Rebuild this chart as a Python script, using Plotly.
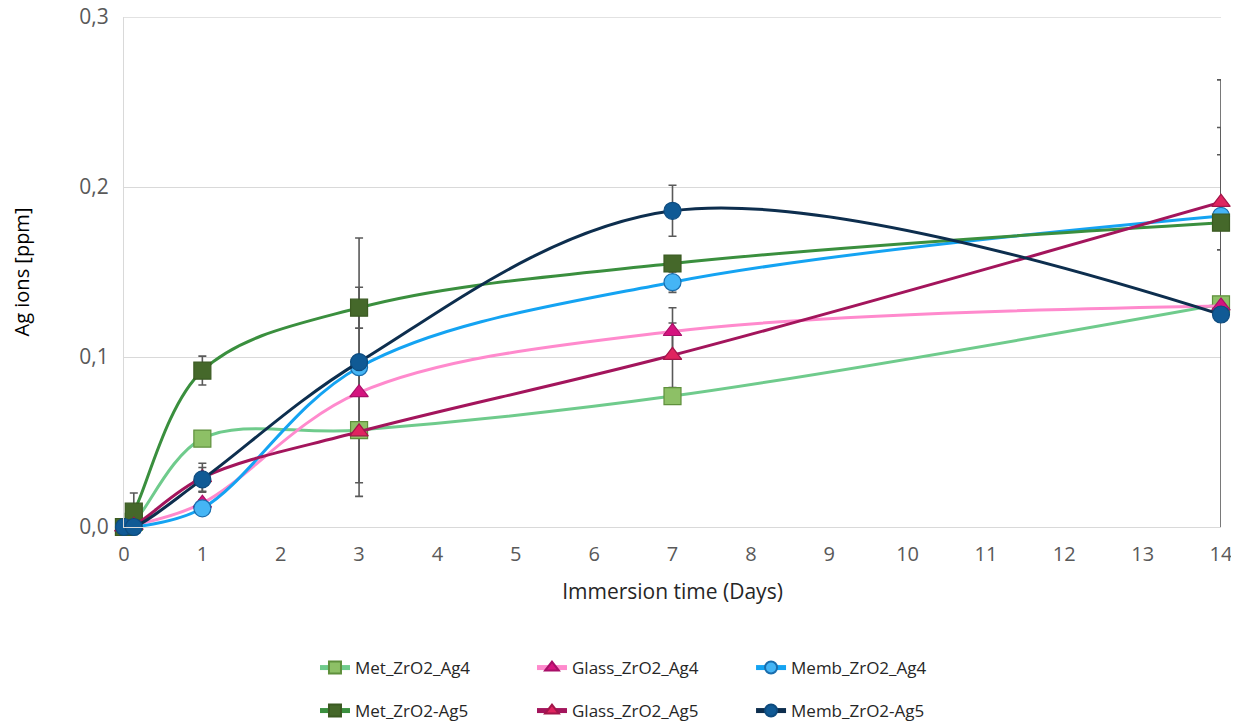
import plotly.graph_objects as go

# ---------------- data ----------------
days = [0, 0.125, 1, 3, 7, 14]
x_ticks = list(range(0, 15))
y_ticks = [0, 0.1, 0.2, 0.3]

met_ag4 = [0, 0.003, 0.052, 0.057, 0.077, 0.131]
met_ag5 = [0, 0.009, 0.092, 0.129, 0.155, 0.179]
glass_ag4 = [0, 0.001, 0.014, 0.079, 0.115, 0.130]
glass_ag5 = [0, 0.001, 0.029, 0.056, 0.101, 0.191]
memb_ag4 = [0, 0.0, 0.011, 0.094, 0.144, 0.183]
memb_ag5 = [0, 0.0, 0.028, 0.097, 0.186, 0.125]

err_met_ag4 = [0.001, 0.001, 0.002, 0.003, 0.003, 0.004]
err_met_ag5 = [0.001, 0.011, 0.0085, 0.012, 0.004, 0.056]
err_glass_ag4 = [0.001, 0.001, 0.002, 0.053, 0.014, 0.003]
err_glass_ag5 = [0.001, 0.001, 0.0085, 0.003, 0.019, 0.028]
err_memb_ag4 = [0.001, 0.001, 0.002, 0.076, 0.006, 0.003]
err_memb_ag5 = [0.001, 0.001, 0.007, 0.003, 0.015, 0.138]

names = ["Met_ZrO2_Ag4", "Glass_ZrO2_Ag4", "Memb_ZrO2_Ag4",
         "Met_ZrO2-Ag5", "Glass_ZrO2_Ag5", "Memb_ZrO2-Ag5"]
values = [met_ag4, glass_ag4, memb_ag4, met_ag5, glass_ag5, memb_ag5]
errors = [err_met_ag4, err_glass_ag4, err_memb_ag4, err_met_ag5, err_glass_ag5, err_memb_ag5]

# ---------------- styles ----------------
line_colors = ["#6FCB8C", "#FF8ACD", "#14A3F2", "#3A8F3E", "#A3155C", "#0D2E4E"]
marker_fill = ["#8DC066", "#D5147F", "#45B5F5", "#45682A", "#E0245F", "#105A95"]
marker_line = ["#5F903C", "#A80F68", "#1A6EAE", "#3B5A22", "#A3164A", "#0E4B7E"]
symbols = ["square", "triangle-up", "circle", "square", "triangle-up", "circle"]
sizes = [17, 16, 17, 17, 16, 17]

# legend positions (paper coords) : column x and row y
leg_x = [0.1741, 0.3719, 0.5716, 0.1741, 0.3719, 0.5716]
leg_y = [-0.2765, -0.2765, -0.2765, -0.3608, -0.3608, -0.3608]

fig = go.Figure()

# error bars (clipped to plot area), drawn first
for v, e in zip(values, errors):
    fig.add_trace(go.Scatter(
        x=days, y=v, mode="markers",
        marker=dict(size=2, opacity=0),
        error_y=dict(type="data", array=e, visible=True,
                     color="#595959", thickness=1.6, width=4),
        showlegend=False, hoverinfo="skip", cliponaxis=True))

for i, (n, v) in enumerate(zip(names, values)):
    legname = "legend" if i == 0 else f"legend{i+1}"
    fig.add_trace(go.Scatter(
        x=days, y=v, name=n, mode="lines+markers",
        line=dict(color=line_colors[i], width=3, shape="spline", smoothing=1),
        marker=dict(symbol=symbols[i], size=sizes[i], color=marker_fill[i],
                    line=dict(color=marker_line[i], width=1.2)),
        cliponaxis=False, legend=legname))

# top gridline (plotly drops gridlines that sit on the range edge)
fig.add_shape(type="line", xref="paper", x0=0, x1=1, yref="y",
              y0=y_ticks[-1], y1=y_ticks[-1], layer="below",
              line=dict(color="#D9D9D9", width=1.3))

font_family = "Open Sans, Liberation Sans, sans-serif"
layout = dict(
    width=1231, height=716,
    margin=dict(l=116, r=18, t=9, b=197, autoexpand=False),
    paper_bgcolor="white", plot_bgcolor="white",
    separators=",.",
    font=dict(family=font_family, size=17, color="#404040"),
    xaxis=dict(range=[0, 14], tickvals=x_ticks, showgrid=False, automargin=False,
               showline=True, linecolor="#D9D9D9", linewidth=1.3, zeroline=False,
               tickfont=dict(color="#595959", size=20), ticklabelstandoff=9,
               ticklabeloverflow="allow",
               title=dict(text="Immersion time (Days)", font=dict(size=21, color="#262626"),
                          standoff=18)),
    yaxis=dict(range=[0, 0.3], tickvals=y_ticks, tickformat=".1f", automargin=False,
               showgrid=True, gridcolor="#D9D9D9", gridwidth=1.3,
               showline=True, linecolor="#D9D9D9", linewidth=1.3, zeroline=False,
               tickfont=dict(color="#595959", size=21), ticklabelstandoff=10,
               ticklabeloverflow="allow",
               title=dict(text="Ag ions [ppm]", font=dict(size=20, color="#000000"),
                          standoff=44)),
)
for i in range(6):
    key = "legend" if i == 0 else f"legend{i+1}"
    layout[key] = dict(x=leg_x[i], y=leg_y[i], xanchor="left", yanchor="middle",
                       orientation="h", bgcolor="rgba(0,0,0,0)", itemsizing="constant",
                       font=dict(size=17, color="#262626"))
fig.update_layout(**layout)

fig.write_html("out.html")
